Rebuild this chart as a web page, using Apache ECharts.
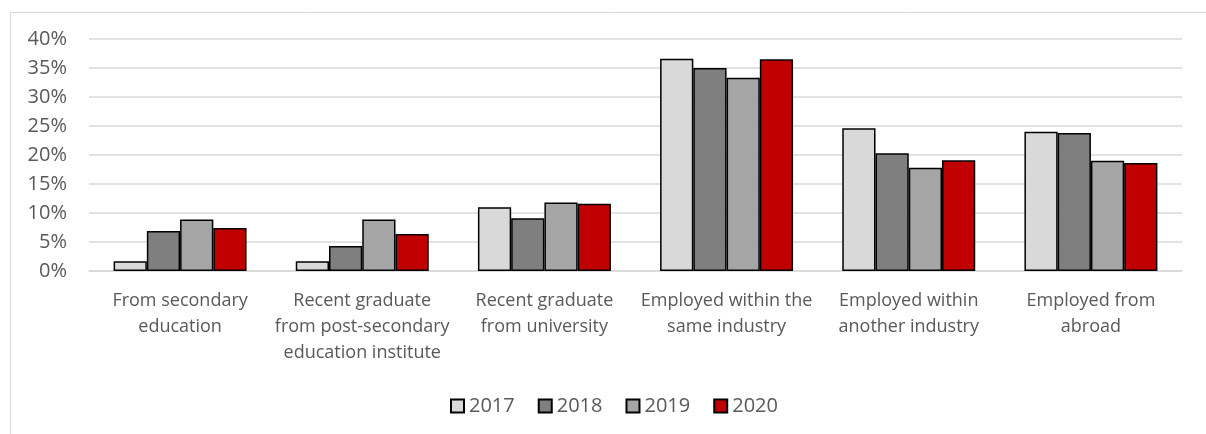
<!DOCTYPE html>
<html>
<head>
<meta charset="utf-8">
<script src="https://cdn.jsdelivr.net/npm/echarts@6/dist/echarts.min.js"></script>
<style>
  html, body { margin: 0; padding: 0; background: #fff; }
  #chart { width: 1206px; height: 434px; }
</style>
</head>
<body>
<div id="chart"></div>
<script>
// Recruitment source categories (line breaks as laid out under the axis)
const categories = [
  'From secondary\neducation',
  'Recent graduate\nfrom post-secondary\neducation institute',
  'Recent graduate\nfrom university',
  'Employed within the\nsame industry',
  'Employed within\nanother industry',
  'Employed from\nabroad'
];

// Share of recruits per year, in percent
const years = ['2017', '2018', '2019', '2020'];
const values2017 = [1.7, 1.7, 11.0, 36.6, 24.6, 24.0];
const values2018 = [6.9, 4.3, 9.1, 35.0, 20.3, 23.8];
const values2019 = [8.9, 8.9, 11.8, 33.3, 17.8, 19.0];
const values2020 = [7.4, 6.4, 11.6, 36.5, 19.1, 18.6];

const yTicks = { min: 0, max: 40, interval: 5 };
const colors = ['#d9d9d9', '#7f7f7f', '#a5a5a5', '#c00000'];

const seriesValues = [values2017, values2018, values2019, values2020];
const fontFamily = '"Open Sans", "Noto Sans", sans-serif';

const chart = echarts.init(document.getElementById('chart'), null, { renderer: 'canvas' });

chart.setOption({
  animation: false,
  color: colors,
  graphic: [{
    type: 'rect',
    left: 8, top: 10,
    shape: { width: 1220, height: 440 },
    style: { fill: 'none', stroke: '#d9d9d9', lineWidth: 1 },
    silent: true,
    z: -1
  }],
  grid: { left: 89, right: 24, top: 39, bottom: 163, containLabel: false },
  legend: {
    bottom: 18,
    left: 450,
    padding: 0,
    itemWidth: 13,
    itemHeight: 13,
    itemGap: 23,
    icon: 'rect',
    textStyle: { color: '#595959', fontSize: 20, fontFamily: fontFamily },
    data: years
  },
  xAxis: {
    type: 'category',
    data: categories,
    axisLine: { show: true, lineStyle: { color: '#d9d9d9', width: 1.5 } },
    axisTick: { show: false },
    axisLabel: {
      color: '#595959',
      fontSize: 18,
      fontFamily: fontFamily,
      lineHeight: 26,
      margin: 17,
      interval: 0
    }
  },
  yAxis: {
    type: 'value',
    min: yTicks.min,
    max: yTicks.max,
    interval: yTicks.interval,
    axisLine: { show: false },
    axisTick: { show: false },
    splitLine: { lineStyle: { color: '#d9d9d9', width: 1.5 } },
    axisLabel: {
      color: '#595959',
      fontSize: 20,
      fontFamily: fontFamily,
      margin: 22,
      formatter: v => v + '%'
    }
  },
  series: years.map((y, i) => ({
    name: y,
    type: 'bar',
    data: seriesValues[i],
    barGap: '0%',
    barCategoryGap: '27%',
    itemStyle: { color: colors[i], borderColor: '#000', borderWidth: 1.5 }
  }))
});
</script>
</body>
</html>
